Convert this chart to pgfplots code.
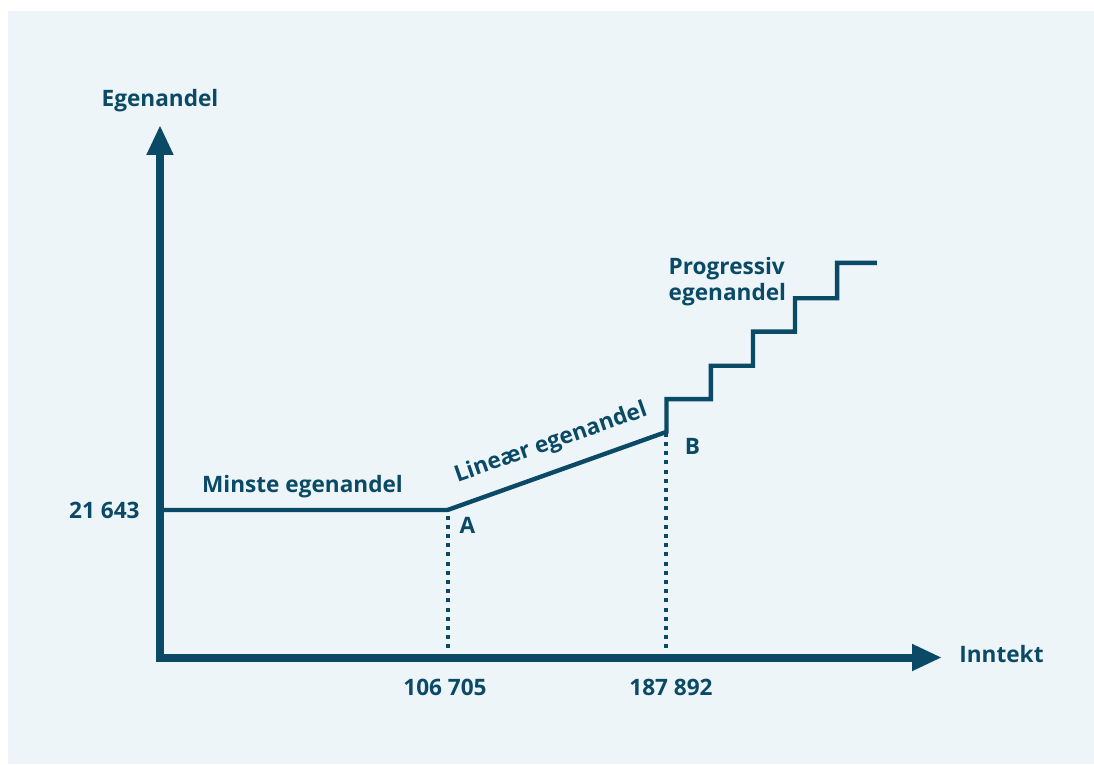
\documentclass[border=0pt]{standalone}
\usepackage{pgfplots}
\pgfplotsset{compat=1.18}
\usepackage{fontspec}
\setmainfont{Open Sans}
\newfontfamily\lab{Open Sans Bold}
\usetikzlibrary{arrows.meta}
\definecolor{ink}{RGB}{11,74,102}
\definecolor{panel}{RGB}{237,245,248}
\tikzset{lbl/.style={font=\lab\fontsize{11.3}{13}\selectfont, text=ink, inner sep=0pt}}
\begin{document}
\begin{tikzpicture}
\begin{axis}[
  scale only axis, width=391pt, height=266.25pt,
  xmin=0, xmax=290122, ymin=0, ymax=78118,
  axis lines=none, ticks=none, clip=false,
]
% background
\fill[white] (axis cs:-59360,-15624) rectangle (axis cs:346514,96455);
\fill[panel] (axis cs:-56392,-15624) rectangle (axis cs:346514,94860);
% dotted guides
\addplot[ink, line width=2pt, dash pattern=on 2pt off 2.6pt] coordinates {(106705,0) (106705,21643)};
\addplot[ink, line width=2pt, dash pattern=on 2pt off 2.6pt] coordinates {(187892,0) (187892,33100)};
% egenandel curve
\addplot[ink, line width=2.2pt, line join=miter] coordinates {
 (0,21643) (106705,21643) (187892,33100)
 (187892,37900) (204400,37900) (204400,42800) (220000,42800)
 (220000,47800) (235600,47800) (235600,52700) (251200,52700)
 (251200,57900) (266000,57900)};
% axes
\draw[ink, line width=4pt, line join=miter,
  {Triangle[length=15pt, width=12.5pt]}-{Triangle[length=15pt, width=12.5pt]}]
  (axis cs:0,78118) -- (axis cs:0,0) -- (axis cs:290122,0);
% labels
\node[lbl, anchor=base] at (axis cs:0,80802) {Egenandel};
\node[lbl, anchor=base west] at (axis cs:296429,-763) {Inntekt};
\node[lbl, anchor=east] at (axis cs:-7420,21643) {21 643};
\node[lbl, anchor=base] at (axis cs:105735,-5501) {106 705};
\node[lbl, anchor=base] at (axis cs:189581,-5501) {187 892};
\node[lbl, anchor=center] at (axis cs:114083,19364) {A};
\node[lbl, anchor=center] at (axis cs:197558,31027) {B};
\node[lbl, anchor=base] at (axis cs:52868,24279) {Minste egenandel};
\node[lbl, anchor=base, rotate=19.3] at (axis cs:145803,30600) {Lineær egenandel};
\node[lbl, anchor=base west] at (axis cs:188579,56113) {Progressiv};
\node[lbl, anchor=base west] at (axis cs:188579,52299) {egenandel};
\end{axis}
\end{tikzpicture}
\end{document}
